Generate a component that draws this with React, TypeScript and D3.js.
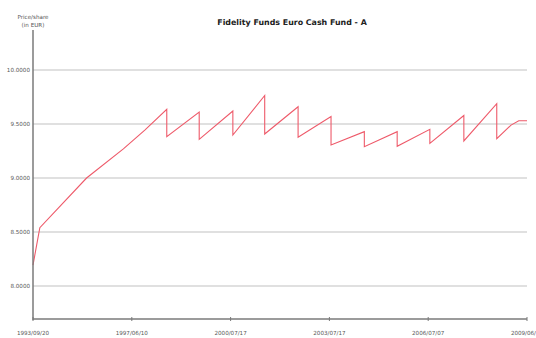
import React from "react";
import * as d3 from "d3";

const title = "Fidelity Funds Euro Cash Fund - A";
const yTitle = ["Price/share", "(in EUR)"];

// x axis: tick dates (equally spaced on the chart)
const tickDates = ["1993-09-20", "1997-06-10", "2000-07-17", "2003-07-17", "2006-07-07", "2009-06-19"];
const tickLabels = ["1993/09/20", "1997/06/10", "2000/07/17", "2003/07/17", "2006/07/07", "2009/06/19"];
const yTicks = [8.0, 8.5, 9.0, 9.5, 10.0];

// price series
const dates = [
  "1993-09-20", "1993-12-23", "1995-09-27", "1997-02-14", "1997-11-06",
  "1998-07-16", "1998-07-16",
  "1999-07-23", "1999-07-23",
  "2000-08-11", "2000-08-11",
  "2001-07-30", "2001-07-30",
  "2002-08-04", "2002-08-04",
  "2003-08-04", "2003-08-04",
  "2004-08-04", "2004-08-04",
  "2005-07-31", "2005-07-31",
  "2006-07-25", "2006-07-25",
  "2007-07-31", "2007-07-31",
  "2008-07-24", "2008-07-24",
  "2008-12-27", "2009-03-21", "2009-06-19",
];
const prices = [
  8.194, 8.54, 9.0, 9.27, 9.444,
  9.636, 9.383,
  9.61, 9.358,
  9.62, 9.398,
  9.764, 9.407,
  9.66, 9.377,
  9.569, 9.306,
  9.429, 9.29,
  9.429, 9.294,
  9.451, 9.321,
  9.579, 9.343,
  9.688, 9.364,
  9.49, 9.53, 9.53,
];

export default function App() {
  const W = 536, H = 338;
  const left = 33, right = 527, bottom = 319, axisTop = 30;
  const parse = d3.timeParse("%Y-%m-%d");
  const tds = tickDates.map((d) => parse(d) as Date);
  const x = d3
    .scaleTime()
    .domain(tds)
    .range(tds.map((_, i) => left + ((right - left) * i) / (tds.length - 1)));
  const y = d3.scaleLinear().domain([8, 10]).range([286, 70]);
  const pts: [Date, number][] = dates.map((d, i) => [parse(d) as Date, prices[i]]);
  const line = d3
    .line<[Date, number]>()
    .x((d) => x(d[0]))
    .y((d) => y(d[1]));
  const font = "Verdana, 'DejaVu Sans', sans-serif";
  return (
    <svg
      width={W}
      height={H}
      style={{ position: "absolute", left: 0, top: 0, background: "#fff" }}
      fontFamily={font}
    >
      <text x={292} y={25} textAnchor="middle" fontSize={7.9} fontWeight="bold" fill="#222">
        {title}
      </text>
      <text x={33} y={19} textAnchor="middle" fontSize={5.6} fill="#555">
        {yTitle[0]}
      </text>
      <text x={33} y={27} textAnchor="middle" fontSize={5.6} fill="#555">
        {yTitle[1]}
      </text>
      {yTicks.map((t) => (
        <g key={t}>
          <line x1={left} x2={right} y1={y(t)} y2={y(t)} stroke="#d6d6d6" strokeWidth={1.5} />
          <text x={30} y={y(t) + 2} textAnchor="end" fontSize={5.6} fill="#555">
            {d3.format(".4f")(t)}
          </text>
        </g>
      ))}
      <path d={line(pts) || ""} fill="none" stroke="#ee5a6a" strokeWidth={1.1} />
      <line x1={left} x2={left} y1={axisTop} y2={bottom + 1} stroke="#7a7a7a" strokeWidth={1.5} />
      <line x1={left} x2={right} y1={bottom} y2={bottom} stroke="#7a7a7a" strokeWidth={1.5} />
      {tds.map((d, i) => (
        <g key={i}>
          <line x1={x(d)} x2={x(d)} y1={bottom - 2} y2={bottom + 2} stroke="#7a7a7a" strokeWidth={1} />
          <text x={x(d)} y={335} textAnchor="middle" fontSize={5.6} fill="#555">
            {tickLabels[i]}
          </text>
        </g>
      ))}
    </svg>
  );
}
